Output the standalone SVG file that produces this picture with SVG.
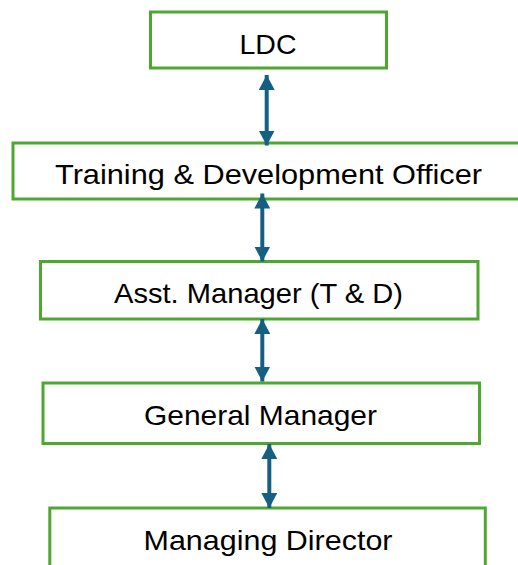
<svg xmlns="http://www.w3.org/2000/svg" width="518" height="565" viewBox="0 0 518 565">
<defs>
<style>
.box{fill:#ffffff;stroke:#4EA72E;stroke-width:3}
.lbl{font-family:"Liberation Sans",Arial,sans-serif;font-size:28px;fill:#000000;text-anchor:middle}
.conn{stroke:#156082;stroke-width:4;fill:none}
</style>
<marker id="ah" markerUnits="userSpaceOnUse" markerWidth="16" markerHeight="16" viewBox="0 0 16 16" refX="15" refY="8" orient="auto-start-reverse">
<path d="M0,0 L15,8 L0,16 Z" fill="#156082"/>
</marker>
</defs>
<rect width="518" height="565" fill="#ffffff"/>
<g id="node-ldc">
<rect class="box" x="150.5" y="12" width="236" height="56"/>
<text class="lbl" x="268" y="54" textLength="57" lengthAdjust="spacingAndGlyphs">LDC</text>
</g>
<g id="node-tdo">
<rect class="box" x="13" y="143" width="512" height="56"/>
<text class="lbl" x="268.5" y="184" textLength="427" lengthAdjust="spacingAndGlyphs">Training &amp; Development Officer</text>
</g>
<g id="node-asst">
<rect class="box" x="40.5" y="261.5" width="437.5" height="57.5"/>
<text class="lbl" x="258.5" y="303" textLength="289" lengthAdjust="spacingAndGlyphs">Asst. Manager (T &amp; D)</text>
</g>
<g id="node-gm">
<rect class="box" x="43" y="383" width="436.5" height="60.5"/>
<text class="lbl" x="260.5" y="425" textLength="233" lengthAdjust="spacingAndGlyphs">General Manager</text>
</g>
<g id="node-md">
<rect class="box" x="49.8" y="508" width="435.5" height="70"/>
<text class="lbl" x="268" y="550" textLength="249" lengthAdjust="spacingAndGlyphs">Managing Director</text>
</g>
<g id="connectors">
<line class="conn" x1="266.7" y1="75" x2="266.7" y2="145.5" marker-start="url(#ah)" marker-end="url(#ah)"/>
<line class="conn" x1="262.3" y1="193.5" x2="262.3" y2="261.5" marker-start="url(#ah)" marker-end="url(#ah)"/>
<line class="conn" x1="262.3" y1="319" x2="262.3" y2="381.5" marker-start="url(#ah)" marker-end="url(#ah)"/>
<line class="conn" x1="269.3" y1="444" x2="269.3" y2="508" marker-start="url(#ah)" marker-end="url(#ah)"/>
</g>
</svg>
